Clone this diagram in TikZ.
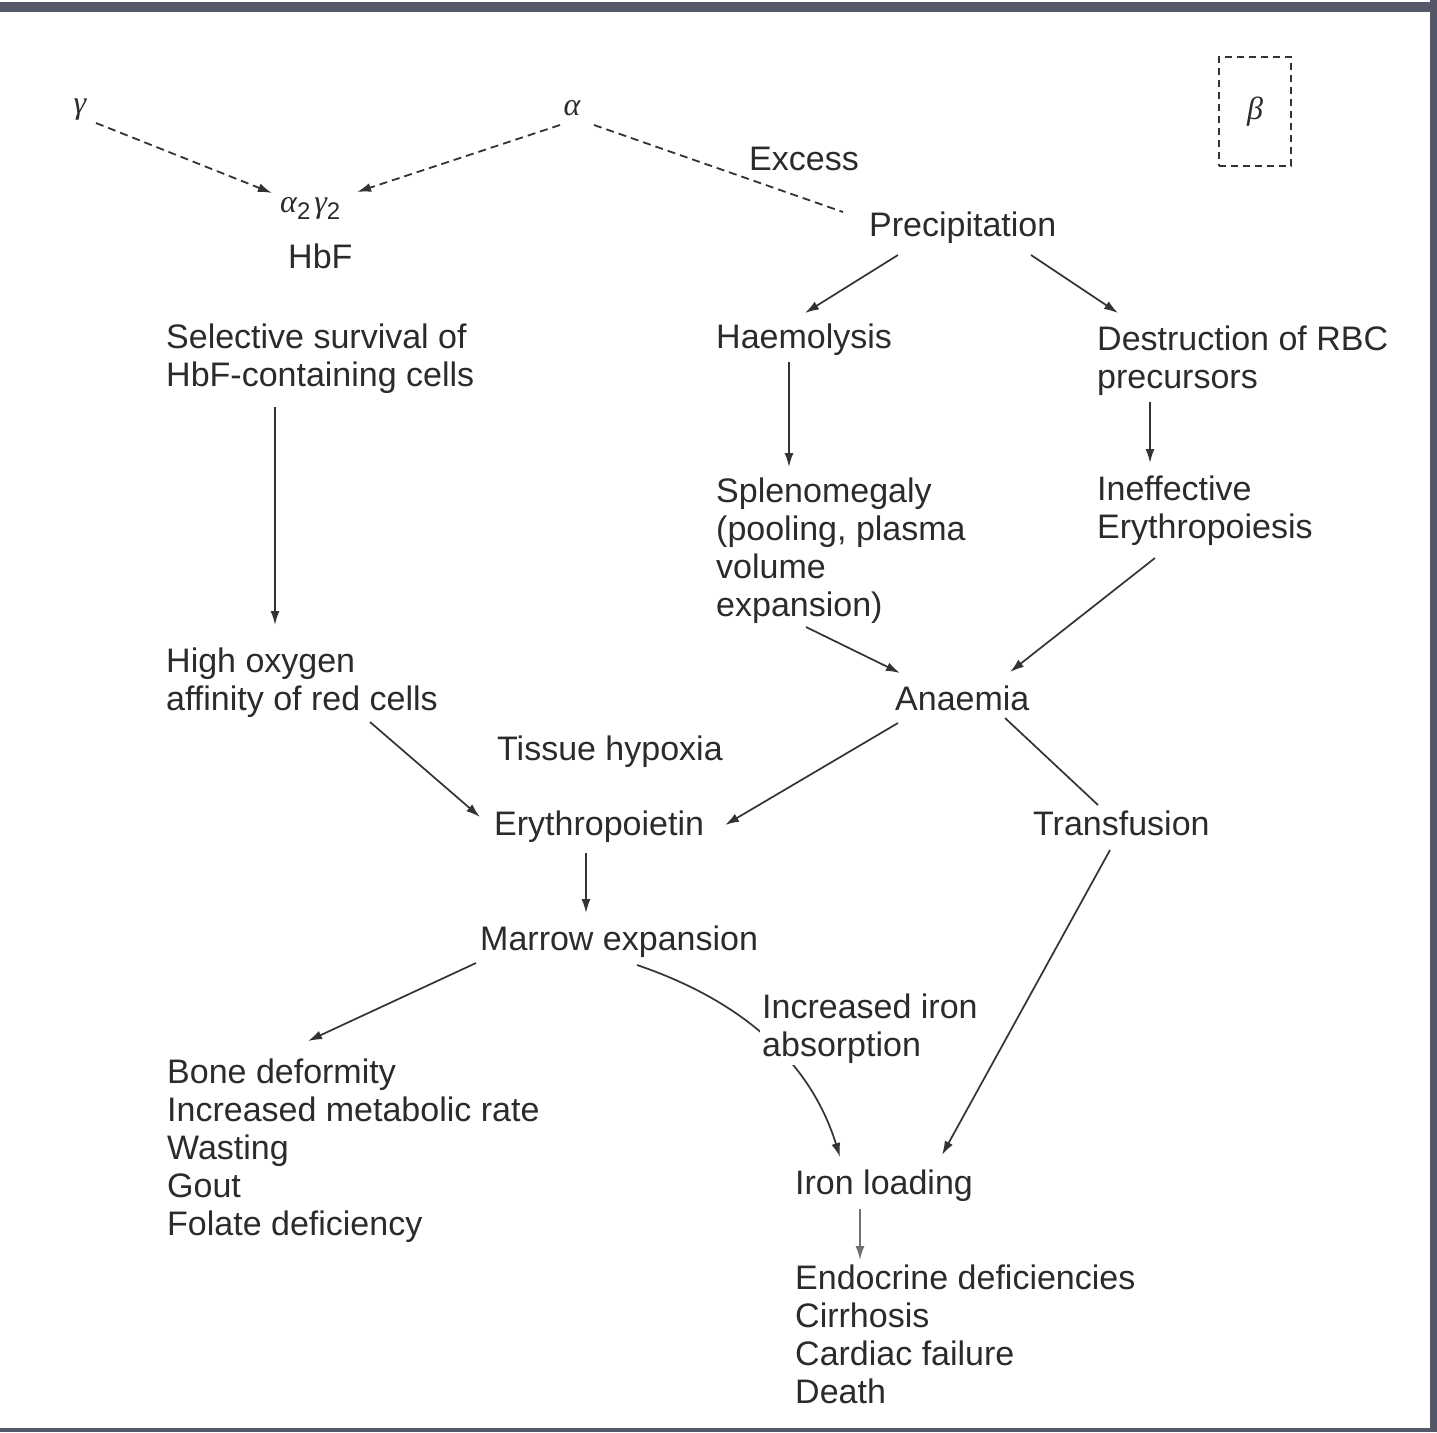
\documentclass[tikz,border=0pt]{standalone}
\usepackage{fontspec}
\setmainfont{Liberation Sans}
\newfontfamily\grk{Liberation Serif}
\usetikzlibrary{arrows.meta}
\definecolor{ink}{HTML}{2B2B2B}
\definecolor{lin}{HTML}{333333}
\definecolor{framecol}{HTML}{555868}
\newcommand\ml[1]{\vtop{\halign{##\hfil\cr#1\crcr}}}
\newcommand\sbs[1]{\raisebox{-7pt}{\fontsize{24}{25}\selectfont\rmfamily\upshape #1}}
\begin{document}
\begin{tikzpicture}[x=1pt,y=-1pt,
  every node/.style={font=\fontsize{34}{38}\selectfont},
  txt/.style={anchor=base west, inner sep=0pt, text=ink},
  mth/.style={anchor=center, inner sep=0pt, text=ink, font=\fontsize{32}{34}\selectfont\grk\itshape},
  arr/.style={draw=lin, line width=1.7pt, -{Latex[length=14pt,width=9pt]}},
  ln/.style={draw=lin, line width=1.7pt},
  dsh/.style={draw=lin, line width=1.8pt, dash pattern=on 8pt off 5pt}]
\useasboundingbox (0,0) rectangle (1437,1432);
\fill[white] (0,0) rectangle (1437,1432);
\fill[framecol] (0,2) rectangle (1437,12);
\fill[framecol] (1430,0) rectangle (1437,1432);
\fill[framecol] (0,1428) rectangle (1437,1432);

\node[mth] (gam) at (80,110) {γ};
\node[mth] (alp) at (572,108) {α};
\node[txt, font=\fontsize{32}{34}\selectfont\grk\itshape] (a2g2) at (280,212) {α\sbs{2}\kern4pt γ\sbs{2}};
\node[txt] (hbf) at (288,268) {HbF};
\node[txt] (excess) at (749,170) {Excess};
\node[txt] (prec) at (869,236) {Precipitation};
\node[draw=lin, line width=1.8pt, dash pattern=on 7pt off 5pt, minimum width=72pt,
  minimum height=109pt, inner sep=0pt, anchor=center, text=ink,
  font=\fontsize{32}{34}\selectfont\grk\itshape] (beta) at (1255,111.5) {β};
\node[txt] (haem) at (716,348) {Haemolysis};
\node[txt] (destr) at (1097,350) {\ml{Destruction of RBC\cr precursors}};
\node[txt] (sel) at (166,348) {\ml{Selective survival of\cr HbF-containing cells}};
\node[txt] (splen) at (716,502) {\ml{Splenomegaly\cr (pooling, plasma\cr volume\cr expansion)}};
\node[txt] (ineff) at (1097,500) {\ml{Ineffective\cr Erythropoiesis}};
\node[txt] (high) at (166,672) {\ml{High oxygen\cr affinity of red cells}};
\node[txt] (anaemia) at (895,710) {Anaemia};
\node[txt] (tissue) at (497,760) {Tissue hypoxia};
\node[txt] (ery) at (494,835) {Erythropoietin};
\node[txt] (transf) at (1033,835) {Transfusion};
\node[txt] (marrow) at (480,950) {Marrow expansion};
\node[txt] (bone) at (167,1083) {\ml{Bone deformity\cr Increased metabolic rate\cr Wasting\cr Gout\cr Folate deficiency}};
\node[txt] (iron) at (795,1194) {Iron loading};
\node[txt] (endo) at (795,1289) {\ml{Endocrine deficiencies\cr Cirrhosis\cr Cardiac failure\cr Death}};

% dashed connectors
\draw[dsh, -{Latex[length=14pt,width=9pt]}] ([shift={(16,13)}]gam.center) -- ([shift={(-8,-19)}]a2g2.base west);
\draw[dsh, -{Latex[length=14pt,width=9pt]}] ([shift={(-12,17)}]alp.center) -- ([shift={(77,-20)}]a2g2.base west);
\draw[dsh] ([shift={(22,17)}]alp.center) -- ([shift={(-26,-24)}]prec.base west);

% solid connectors
\draw[arr] ([shift={(29,19)}]prec.base west) -- ([shift={(89,-35)}]haem.base west);
\draw[arr] ([shift={(162,19)}]prec.base west) -- ([shift={(21,-37)}]destr.base west);
\draw[arr] ([shift={(73,14)}]haem.base west) -- ([shift={(73,-35)}]splen.base west);
\draw[arr] ([shift={(53,52)}]destr.base west) -- ([shift={(53,-37)}]ineff.base west);
\draw[arr] ([shift={(58,58)}]ineff.base west) -- ([shift={(115,-38)}]anaemia.base west);
\draw[arr] ([shift={(90,125)}]splen.base west) -- ([shift={(5,-37)}]anaemia.base west);
\draw[arr] ([shift={(109,59)}]sel.base west) -- ([shift={(109,-47)}]high.base west);
\draw[arr] ([shift={(204,50)}]high.base west) -- ([shift={(-14,-18)}]ery.base west);
\draw[arr] ([shift={(3,13)}]anaemia.base west) -- ([shift={(231,-10)}]ery.base west);
\draw[ln] ([shift={(110,8)}]anaemia.base west) -- ([shift={(65,-30)}]transf.base west);
\draw[arr] ([shift={(77,15)}]transf.base west) -- ([shift={(147,-39)}]iron.base west);
\draw[arr] ([shift={(92,18)}]ery.base west) -- ([shift={(106,-37)}]marrow.base west);
\draw[arr] ([shift={(-4,13)}]marrow.base west) -- ([shift={(141,-42)}]bone.base west);
\draw[arr] ([shift={(157,15)}]marrow.base west) .. controls ([shift={(260,50)}]marrow.base west) and ([shift={(15,-134)}]iron.base west) .. ([shift={(45,-37)}]iron.base west);
\draw[arr, draw=lin!70] ([shift={(65,15)}]iron.base west) -- ([shift={(65,-29)}]endo.base west);

\node[txt, fill=white, inner sep=2pt] (incr) at (760,1018) {\ml{Increased iron\cr absorption}};
\end{tikzpicture}
\end{document}
